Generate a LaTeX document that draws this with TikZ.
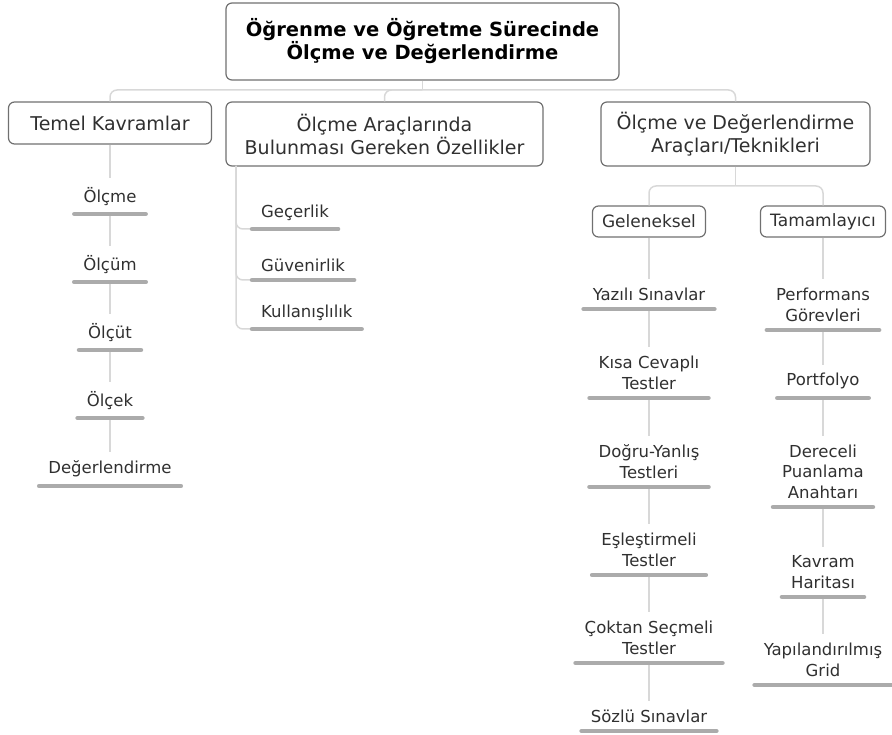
\documentclass[tikz,border=0pt]{standalone}
\usepackage{fontspec}
\setmainfont{DejaVu Sans}
\definecolor{boxline}{HTML}{707070}
\definecolor{linkgray}{HTML}{D8D8D8}
\definecolor{bargray}{HTML}{ABABAB}
\definecolor{ink}{HTML}{303030}

\begin{document}
\begin{tikzpicture}[x=1pt,y=1pt,
    box/.style={draw=boxline, line width=1.2pt, rounded corners=6pt, align=center, text=ink, inner sep=0pt},
    rootbox/.style={box, font=\fontsize{19.5}{23}\selectfont\bfseries, text=black},
    mainbox/.style={box, font=\fontsize{19}{23}\selectfont},
    subbox/.style={box, font=\fontsize{17}{21}\selectfont},
    leaf/.style={align=center, text=ink, inner xsep=9pt, inner ysep=8.5pt, font=\fontsize{16.5}{20.5}\selectfont},
    link/.style={draw=linkgray, line width=1.5pt, rounded corners=7pt},
    bar/.style={draw=bargray, line width=4.5pt, line cap=round}]
    \useasboundingbox (0,0) rectangle (892,-735);
    \node[rootbox, minimum width=393pt, minimum height=77pt] (root) at (422.5,-41.5) {Öğrenme ve Öğretme Sürecinde\\Ölçme ve Değerlendirme};
    \node[mainbox, minimum width=203pt, minimum height=42pt] (temel) at (110,-123) {Temel Kavramlar};
    \node[mainbox, minimum width=317pt, minimum height=64pt] (araclar) at (384.5,-134) {Ölçme Araçlarında\\Bulunması Gereken Özellikler};
    \node[mainbox, minimum width=269pt, minimum height=64pt] (teknik) at (735.5,-134) {Ölçme ve Değerlendirme\\Araçları/Teknikleri};
    \node[subbox, minimum width=113pt, minimum height=31pt] (geleneksel) at (649,-221.5) {Geleneksel};
    \node[subbox, minimum width=125pt, minimum height=31pt] (tamamlayici) at (823,-221.5) {Tamamlayıcı};
    \coordinate (rootfork) at (422.5,-90);
    \coordinate (teknikfork) at (735.5,-186);
    \coordinate (aracstem) at (236,-166);
    \node[leaf, anchor=south] (olcme) at (110,-214) {Ölçme};
    \node[leaf, anchor=south] (olcum) at (110,-282) {Ölçüm};
    \node[leaf, anchor=south] (olcut) at (110,-350) {Ölçüt};
    \node[leaf, anchor=south] (olcek) at (110,-418) {Ölçek};
    \node[leaf, anchor=south] (degerlendirme) at (110,-486) {Değerlendirme};
    \node[leaf, anchor=south west] (gecerlik) at (252,-229) {Geçerlik};
    \node[leaf, anchor=south west] (guvenirlik) at (252,-280) {Güvenirlik};
    \node[leaf, anchor=south west] (kullanislilik) at (252,-329) {Kullanışlılık};
    \node[leaf, anchor=south] (yazili) at (649,-309) {Yazılı Sınavlar};
    \node[leaf, anchor=south] (kisa) at (649,-398) {Kısa Cevaplı\\Testler};
    \node[leaf, anchor=south] (dogru) at (649,-487) {Doğru-Yanlış\\Testleri};
    \node[leaf, anchor=south] (esles) at (649,-575) {Eşleştirmeli\\Testler};
    \node[leaf, anchor=south] (coktan) at (649,-663) {Çoktan Seçmeli\\Testler};
    \node[leaf, anchor=south] (sozlu) at (649,-731) {Sözlü Sınavlar};
    \node[leaf, anchor=south] (performans) at (823,-330) {Performans\\Görevleri};
    \node[leaf, anchor=south] (portfolyo) at (823,-398) {Portfolyo};
    \node[leaf, anchor=south] (dereceli) at (823,-507) {Dereceli\\Puanlama\\Anahtarı};
    \node[leaf, anchor=south] (kavram) at (823,-597) {Kavram\\Haritası};
    \node[leaf, anchor=south] (grid) at (823,-685) {Yapılandırılmış\\Grid};
    \draw[link] (root.south) -- (rootfork);
    \draw[link] (rootfork) -| (temel.north);
    \draw[link] (rootfork) -| (araclar.north);
    \draw[link] (rootfork) -| (teknik.north);
    \draw[link] (teknik.south) -- (teknikfork);
    \draw[link] (teknikfork) -| (geleneksel.north);
    \draw[link] (teknikfork) -| (tamamlayici.north);
    \foreach \a/\b in {temel/olcme, olcme/olcum, olcum/olcut, olcut/olcek, olcek/degerlendirme,
        geleneksel/yazili, yazili/kisa, kisa/dogru, dogru/esles, esles/coktan, coktan/sozlu,
        tamamlayici/performans, performans/portfolyo, portfolyo/dereceli, dereceli/kavram, kavram/grid}
        \draw[link] (\a.south) -- (\b.north);
    \foreach \n in {gecerlik, guvenirlik, kullanislilik}
        \draw[link] (aracstem) |- (\n.south west);
    \foreach \n in {olcme, olcum, olcut, olcek, degerlendirme, gecerlik, guvenirlik, kullanislilik,
        yazili, kisa, dogru, esles, coktan, sozlu, performans, portfolyo, dereceli, kavram, grid}
        \draw[bar] (\n.south west) -- (\n.south east);
\end{tikzpicture}
\end{document}
